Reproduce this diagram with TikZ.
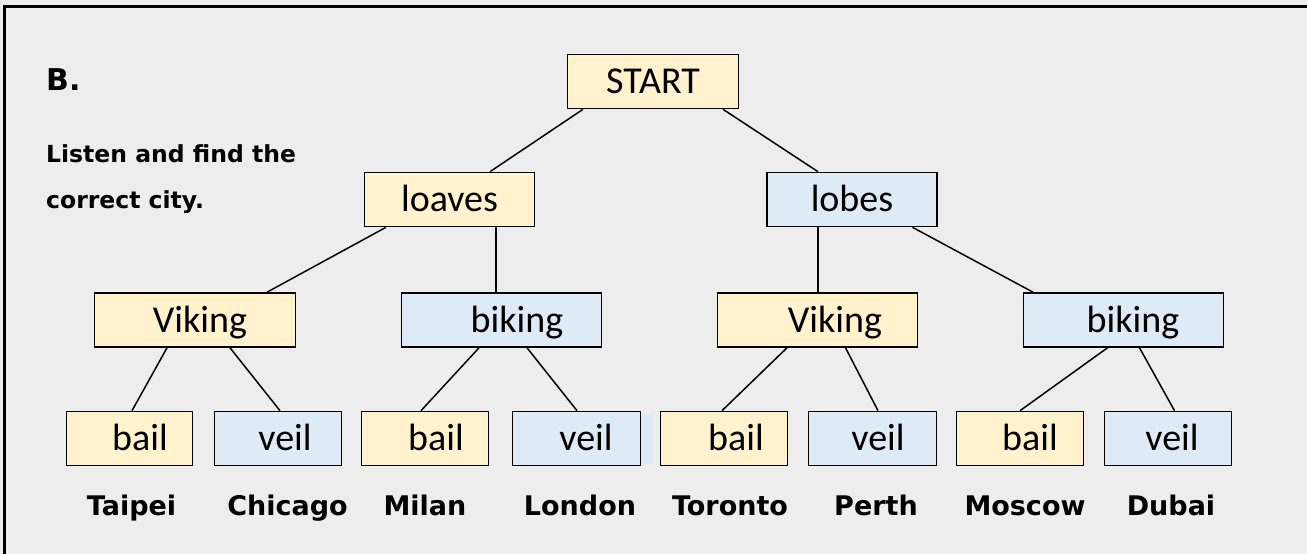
\documentclass[tikz,border=0pt]{standalone}
\usepackage{fontspec}
\setmainfont{Carlito}
\newfontfamily\cityfont{DejaVu Sans}
\definecolor{bg}{HTML}{EDEDED}
\definecolor{yel}{HTML}{FFF2CC}
\definecolor{blu}{HTML}{DEEAF6}
\newcommand\sh[2]{\hspace*{#1pt}#2}
\begin{document}
\begin{tikzpicture}[x=1pt,y=-1pt,
  box/.style={draw=black, line width=1.6pt, minimum height=54pt, inner sep=0pt,
    font=\fontsize{38}{42}\selectfont, text height=28pt, text depth=4pt},
  yb/.style={box, fill=yel},
  bb/.style={box, fill=blu},
  conn/.style={line width=1.5pt},
  city/.style={font=\cityfont\bfseries\fontsize{27}{32}\selectfont, anchor=base, inner sep=0pt},
  head/.style={font=\cityfont\bfseries\fontsize{23.5}{28}\selectfont, anchor=base west, inner sep=0pt}]
\useasboundingbox (0,0) rectangle (1307,554);
\fill[bg] (0,0) rectangle (1307,554);
\draw[line width=3pt] (4.5,554) -- (4.5,6) -- (1307,6);

\node[font=\cityfont\bfseries\fontsize{30}{36}\selectfont, anchor=base west, inner sep=0pt] (b) at (46,90) {B.};
\node[head] (l1) at (46,162) {Listen and find the};
\node[head] (l2) at (46,208) {correct city.};

% boxes
\node[yb, minimum width=171pt] (start) at (653,81.5) {START};
\node[yb, minimum width=170pt] (loaves) at (449.5,199.5) {loaves};
\node[bb, minimum width=170pt] (lobes) at (852,199.5) {lobes};
\node[yb, minimum width=201pt] (vikL) at (195,320) {\sh{10}{Viking}};
\node[bb, minimum width=200pt] (bikL) at (501.5,320) {\sh{31}{biking}};
\node[yb, minimum width=200pt] (vikR) at (817.5,320) {\sh{35}{Viking}};
\node[bb, minimum width=200pt] (bikR) at (1123.5,320) {\sh{19}{biking}};
\node[yb, minimum width=126pt] (bail1) at (129.5,438.5) {\sh{21}{bail}};
\node[bb, minimum width=127pt] (veil1) at (278,438.5) {\sh{14}{veil}};
\node[yb, minimum width=127pt] (bail2) at (425,438.5) {\sh{22}{bail}};
\fill[blu] (600,414) rectangle (653,464);
\node[bb, minimum width=128pt] (veil2) at (576.5,438.5) {\sh{19}{veil}};
\node[yb, minimum width=127pt] (bail3) at (724,438.5) {\sh{24}{bail}};
\node[bb, minimum width=128pt] (veil3) at (872.5,438.5) {\sh{11}{veil}};
\node[yb, minimum width=127pt] (bail4) at (1020,438.5) {\sh{20}{bail}};
\node[bb, minimum width=127pt] (veil4) at (1168,438.5) {\sh{8}{veil}};

% connectors
\draw[conn] ([xshift=-70pt]start.south) -- ([xshift=40.5pt]loaves.north);
\draw[conn] ([xshift=70pt]start.south) -- ([xshift=-34pt]lobes.north);
\draw[conn] ([xshift=-63.5pt]loaves.south) -- ([xshift=72pt]vikL.north);
\draw[conn] ([xshift=46.5pt]loaves.south) -- ([xshift=-5.5pt]bikL.north);
\draw[conn] ([xshift=-34pt]lobes.south) -- ([xshift=0.5pt]vikR.north);
\draw[conn] ([xshift=60.5pt]lobes.south) -- ([xshift=-90.5pt]bikR.north);
\draw[conn] ([xshift=-28pt]vikL.south) -- ([xshift=2.5pt]bail1.north);
\draw[conn] ([xshift=35pt]vikL.south) -- ([xshift=2pt]veil1.north);
\draw[conn] ([xshift=-22.5pt]bikL.south) -- ([xshift=-4pt]bail2.north);
\draw[conn] ([xshift=25.5pt]bikL.south) -- ([xshift=0.5pt]veil2.north);
\draw[conn] ([xshift=-30.5pt]vikR.south) -- ([xshift=-2pt]bail3.north);
\draw[conn] ([xshift=28pt]vikR.south) -- ([xshift=5.5pt]veil3.north);
\draw[conn] ([xshift=-16pt]bikR.south) -- ([xshift=0pt]bail4.north);
\draw[conn] ([xshift=16pt]bikR.south) -- ([xshift=6.5pt]veil4.north);

% cities
\node[city] (taipei) at (131.5,515) {Taipei};
\node[city] (chicago) at (287.5,515) {Chicago};
\node[city] (milan) at (425,515) {Milan};
\node[city] (london) at (580,515) {London};
\node[city] (toronto) at (730,515) {Toronto};
\node[city] (perth) at (876,515) {Perth};
\node[city] (moscow) at (1025,515) {Moscow};
\node[city] (dubai) at (1171,515) {Dubai};
\end{tikzpicture}
\end{document}
